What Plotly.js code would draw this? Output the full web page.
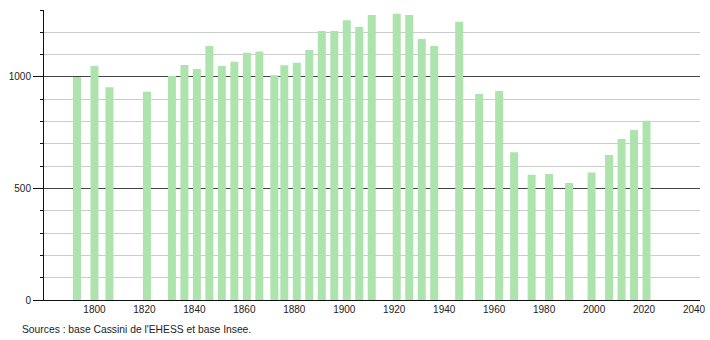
<!DOCTYPE html>
<html>
<head>
<meta charset="utf-8">
<script src="https://cdn.plot.ly/plotly-3.0.1.min.js"></script>
<style>html,body{margin:0;padding:0;background:#fff;}#chart{width:710px;height:340px;}</style>
</head>
<body>
<div id="chart"></div>
<script>
const years = [1793, 1800, 1806, 1821, 1831, 1836, 1841, 1846, 1851, 1856, 1861, 1866, 1872, 1876, 1881, 1886, 1891, 1896, 1901, 1906, 1911, 1921, 1926, 1931, 1936, 1946, 1954, 1962, 1968, 1975, 1982, 1990, 1999, 2006, 2011, 2016, 2021];
const population = [1000, 1049, 954, 933, 1004, 1054, 1036, 1139, 1049, 1068, 1108, 1114, 1008, 1052, 1063, 1121, 1206, 1206, 1254, 1224, 1278, 1283, 1278, 1170, 1139, 1247, 924, 937, 662, 561, 565, 525, 571, 650, 722, 762, 803];
const xTicks = [1800, 1820, 1840, 1860, 1880, 1900, 1920, 1940, 1960, 1980, 2000, 2020, 2040];
const yTicks = [0, 500, 1000];
const sourceText = "Sources : base Cassini de l'EHESS et base Insee.";

const font = {family: 'Liberation Sans, Arial, sans-serif', size: 10, color: '#222'};

Plotly.newPlot('chart', [{
  type: 'bar',
  x: years,
  y: population,
  width: 3.2,
  marker: {color: '#ade3ad', line: {width: 0}},
  hoverinfo: 'x+y'
}], {
  width: 710, height: 340,
  margin: {l: 44, r: 10, t: 10, b: 40},
  paper_bgcolor: '#fff', plot_bgcolor: '#fff',
  font: font,
  showlegend: false,
  xaxis: {
    range: [1779.8, 2042.4],
    tickvals: xTicks,
    ticktext: xTicks.map(String),
    showgrid: false,
    zeroline: false,
    showline: true, linecolor: '#111', linewidth: 1,
    ticks: '', tickfont: font
  },
  yaxis: {
    range: [0, 1300],
    tickvals: yTicks,
    ticktext: yTicks.map(String),
    showgrid: true, gridcolor: '#444', gridwidth: 1,
    zeroline: false,
    showline: true, linecolor: '#111', linewidth: 1,
    ticks: 'outside', ticklen: 10, tickcolor: '#111', tickwidth: 1,
    tickfont: font,
    minor: {dtick: 100, showgrid: true, gridcolor: '#ccc', gridwidth: 1, ticks: 'outside', ticklen: 3, tickcolor: '#111'}
  },
  annotations: [{
    text: sourceText, xref: 'paper', yref: 'paper',
    x: -0.0366, y: -0.1, xanchor: 'left', yanchor: 'middle',
    showarrow: false, font: {family: 'Liberation Sans, Arial, sans-serif', size: 10.3, color: '#222'}
  }]
}, {displayModeBar: false, staticPlot: true});
</script>
</body>
</html>
